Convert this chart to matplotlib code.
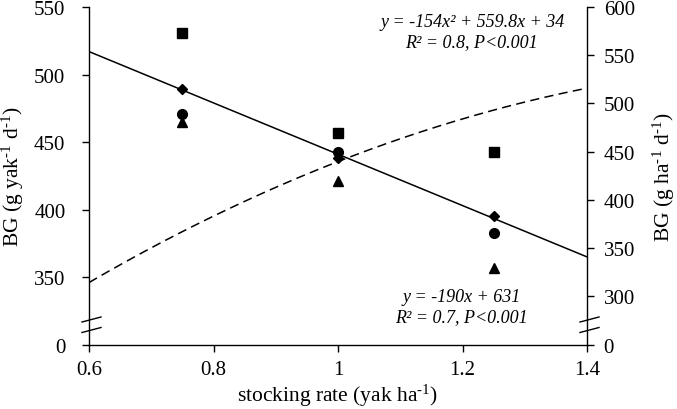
import matplotlib
matplotlib.use("Agg")
import matplotlib.pyplot as plt
import numpy as np
from matplotlib.lines import Line2D

plt.rcParams['font.family'] = ['Liberation Serif', 'DejaVu Serif']
plt.rcParams['mathtext.fontset'] = 'custom'
plt.rcParams['mathtext.rm'] = 'Liberation Serif'
plt.rcParams['mathtext.it'] = 'Liberation Serif:italic'

# Data
stocking = [0.75, 1.0, 1.25]
bg_square = [531, 457, 443]
bg_diamond = [489, 438, 395]
bg_circle = [471, 443, 383]
bg_triangle = [465, 421, 357]

lin_coef = (-190, 631)            # left axis fit
quad_coef = (-154, 559.8, 34)     # right axis fit

left_ticks = [300, 350, 400, 450, 500, 550]
left_labels = ['0', '350', '400', '450', '500', '550']
right_ticks = [250, 300, 350, 400, 450, 500, 550, 600]
right_labels = ['0', '300', '350', '400', '450', '500', '550', '600']
x_ticks = [0.6, 0.8, 1.0, 1.2, 1.4]
x_labels = ['0.6', '0.8', '1', '1.2', '1.4']

W, H = 677, 410
fig = plt.figure(figsize=(W / 100, H / 100), dpi=100)
L, R, T, B = 89, 587, 8, 345.7
ax = fig.add_axes([L / W, 1 - B / H, (R - L) / W, (B - T) / H])
ax2 = ax.twinx()

fs = 15
lfs = 15.5
ax.set_xlim(0.6, 1.4)
ax.set_ylim(300, 550)
ax2.set_ylim(250, 600)

# markers
ms = 7
ax.plot(stocking, bg_square, 's', color='black', ms=ms, zorder=5)
ax.plot(stocking, bg_diamond, 'D', color='black', ms=5.5, zorder=5)
ax.plot(stocking, bg_circle, 'o', color='black', ms=ms, zorder=5)
ax.plot(stocking, bg_triangle, '^', color='black', ms=ms, zorder=5)

xx = np.linspace(0.6, 1.4, 200)
ax.plot(xx, lin_coef[0] * xx + lin_coef[1], '-', color='black', lw=1.1)
ax2.plot(xx, quad_coef[0] * xx ** 2 + quad_coef[1] * xx + quad_coef[2],
         color='black', lw=1.1, dashes=(6, 3.5))

for a in (ax, ax2):
    a.spines['top'].set_visible(False)
    a.tick_params(direction='out', length=5, width=1, labelsize=fs, colors='black')
    for s in a.spines.values():
        s.set_linewidth(1)
ax.spines['right'].set_visible(False)
ax2.spines['left'].set_visible(False)
ax2.spines['bottom'].set_visible(False)

ax.set_yticks(left_ticks)
ax.set_yticklabels(left_labels)
ax2.set_yticks(right_ticks)
ax2.set_yticklabels(right_labels)
ax.set_xticks(x_ticks)
ax.set_xticklabels(x_labels)
ax.tick_params(axis='x', pad=6)
ax.tick_params(axis='y', pad=12)
ax2.tick_params(axis='y', pad=7)

ax.set_xlabel(r'stocking rate (yak ha$^{\text{-}1}$)', fontsize=lfs, labelpad=2)
ax.set_ylabel(r'BG (g yak$^{\text{-}1}$ d$^{\text{-}1}$)', fontsize=lfs, labelpad=6)
ax2.set_ylabel(r'BG (g ha$^{\text{-}1}$ d$^{\text{-}1}$)', fontsize=lfs, labelpad=11)

# axis break marks (pixel offsets converted to figure coords)
def brk(xpix, ypix):
    for yp in ypix:
        fig.add_artist(Line2D([(xpix - 7) / W, (xpix + 12) / W],
                              [1 - (yp + 2.5) / H, 1 - (yp - 2.5) / H],
                              color='black', lw=1))
brk(L, [320.5, 331])
brk(R, [320.5, 331])

fig.text(473 / W, 1 - 22.7 / H, 'y = -154x² + 559.8x + 34', ha='center', va='center',
         fontsize=13, style='italic')
fig.text(471 / W, 1 - 43 / H, 'R² = 0.8, P<0.001', ha='center', va='center',
         fontsize=13, style='italic')
fig.text(462 / W, 1 - 298 / H, 'y = -190x + 631', ha='center', va='center',
         fontsize=13, style='italic')
fig.text(461 / W, 1 - 318 / H, 'R² = 0.7, P<0.001', ha='center', va='center',
         fontsize=13, style='italic')

fig.savefig('out.png', dpi=100)
